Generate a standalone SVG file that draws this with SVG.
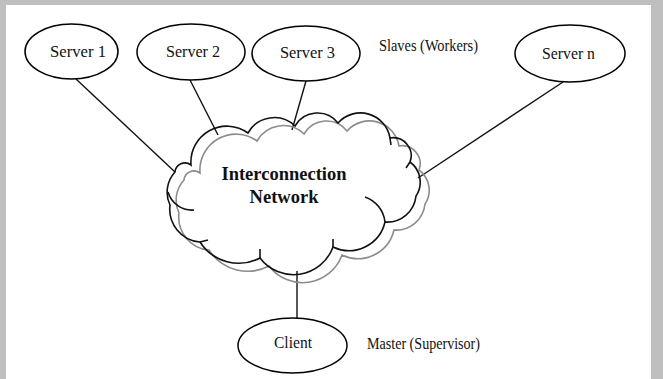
<svg xmlns="http://www.w3.org/2000/svg" width="663" height="379" viewBox="0 0 663 379">
  <defs>
    <style>
      .node { fill: #ffffff; stroke: #000000; stroke-width: 1.5; }
      .lbl { font-family: "Liberation Serif", "Times New Roman", serif; font-size: 17px; fill: #111111; text-anchor: middle; }
      .note { font-family: "Liberation Serif", "Times New Roman", serif; font-size: 16px; fill: #111111; }
      .title { font-family: "Liberation Serif", "Times New Roman", serif; font-size: 18.5px; font-weight: bold; fill: #111111; text-anchor: middle; }
      .conn { stroke: #111111; stroke-width: 1.4; fill: none; }
      .cloudK { fill: none; stroke: #111111; stroke-width: 1.6; }
      .cloudG { fill: none; stroke: #8c8c8c; stroke-width: 1.6; }
    </style>
    <path id="cloudShape" d="M170,205 A30,30 0 0 1 175,172 A10,10 0 0 1 191,165 A36,36 0 0 1 248,133 A30,30 0 0 1 295,126 A26,26 0 0 1 338,123 A30,30 0 0 1 390,138 A18,18 0 0 1 410,162 A25,25 0 0 1 416,196 A29,29 0 0 1 385,222 A37,37 0 0 1 333,247 A42,42 0 0 1 260,258 A46,46 0 0 1 200,242 A33,33 0 0 1 170,205 Z"/>
  </defs>

  <!-- background and frame -->
  <rect x="0" y="0" width="663" height="379" fill="#ffffff"/>
  <rect x="0" y="0" width="663" height="5" fill="#bfbfbf"/>
  <rect x="0" y="0" width="6" height="379" fill="#bfbfbf"/>
  <rect x="651" y="0" width="12" height="379" fill="#bfbfbf"/>

  <!-- connectors -->
  <g id="connectors">
    <line class="conn" x1="76" y1="79" x2="175" y2="172"/>
    <line class="conn" x1="190" y1="80" x2="218" y2="135"/>
    <line class="conn" x1="306" y1="81" x2="292" y2="130"/>
    <line class="conn" x1="563" y1="82" x2="418" y2="178"/>
    <line class="conn" x1="297" y1="271" x2="297" y2="318" stroke-width="2.2"/>
  </g>

  <!-- cloud -->
  <g id="network">
    <use href="#cloudShape" class="cloudG" transform="translate(9,8)"/>
    <use href="#cloudShape" class="cloudK"/>
    <path class="cloudK" d="M365,197 A30,30 0 0 1 385,222"/>
    <path class="cloudK" d="M168,192 A25,25 0 0 0 194,210"/>
    <path class="cloudK" d="M200,242 L208,240"/>
    <path class="cloudK" d="M260,258 L260,249"/>
    <path class="cloudK" d="M333,247 L333,239"/>
    <path class="cloudK" d="M390,138 L391,145"/>
    <path class="cloudK" d="M410,162 L406,168"/>
    <text class="title" x="284" y="180">Interconnection</text>
    <text class="title" x="284" y="203">Network</text>
  </g>

  <g id="server1">
    <ellipse class="node" cx="71.5" cy="51.5" rx="46.5" ry="27.5"/>
    <text class="lbl" x="78" y="57" textLength="56" lengthAdjust="spacingAndGlyphs">Server 1</text>
  </g>
  <g id="server2">
    <ellipse class="node" cx="191" cy="52" rx="54" ry="28"/>
    <text class="lbl" x="193" y="57" textLength="54" lengthAdjust="spacingAndGlyphs">Server 2</text>
  </g>
  <g id="server3">
    <ellipse class="node" cx="306" cy="53.5" rx="54" ry="27.5"/>
    <text class="lbl" x="307.5" y="58" textLength="55" lengthAdjust="spacingAndGlyphs">Server 3</text>
  </g>
  <g id="servern">
    <ellipse class="node" cx="570" cy="53.5" rx="55" ry="28.5"/>
    <text class="lbl" x="568.5" y="59" textLength="53" lengthAdjust="spacingAndGlyphs">Server n</text>
  </g>
  <g id="client">
    <ellipse class="node" cx="292.5" cy="345.5" rx="54.5" ry="27.5"/>
    <text class="lbl" x="293" y="348" textLength="38" lengthAdjust="spacingAndGlyphs">Client</text>
  </g>

  <text class="note" x="379" y="51" textLength="99" lengthAdjust="spacingAndGlyphs">Slaves (Workers)</text>
  <text class="note" x="367" y="349" textLength="113" lengthAdjust="spacingAndGlyphs">Master (Supervisor)</text>
</svg>
